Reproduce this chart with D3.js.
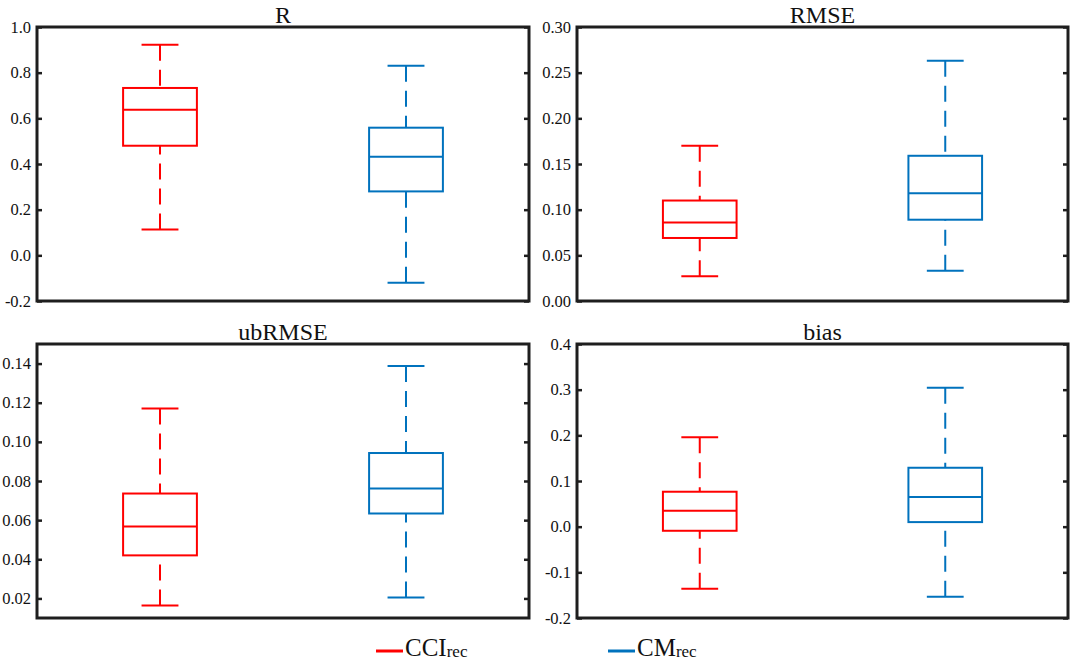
<!DOCTYPE html>
<html>
<head>
<meta charset="utf-8">
<script src="https://cdn.jsdelivr.net/npm/d3@7"></script>
<style>
  html, body { margin: 0; padding: 0; background: #fff; }
  svg { display: block; }
  text { font-family: "Liberation Serif", "Times New Roman", serif; }
</style>
</head>
<body>
<svg id="chart" width="1072" height="663"></svg>
<script>
// ---- data ----
const panelTitles = ["R", "RMSE", "ubRMSE", "bias"];
const seriesNames = ["CCI", "CM"];
const seriesSub = ["rec", "rec"];
const seriesColors = ["#ff0000", "#0072BD"];
const groupPositions = [1, 2];
// five-number summaries: [lowerWhisker, Q1, median, Q3, upperWhisker]
const cciStats = [
  [0.113, 0.480, 0.638, 0.733, 0.922],
  [0.027, 0.069, 0.086, 0.110, 0.170],
  [0.0164, 0.0420, 0.0567, 0.0736, 0.117],
  [-0.136, -0.009, 0.035, 0.0765, 0.196]
];
const cmStats = [
  [-0.120, 0.280, 0.432, 0.559, 0.830],
  [0.033, 0.089, 0.118, 0.159, 0.263],
  [0.0205, 0.0634, 0.0762, 0.0943, 0.1388],
  [-0.1535, 0.010, 0.065, 0.129, 0.304]
];
const yDomains = [[-0.2, 1.0], [0, 0.30], [0.01, 0.15], [-0.2, 0.4]];
const tickLabelsR = ["-0.2", "0.0", "0.2", "0.4", "0.6", "0.8", "1.0"];
const tickLabelsRMSE = ["0.00", "0.05", "0.10", "0.15", "0.20", "0.25", "0.30"];
const tickLabelsUb = ["0.02", "0.04", "0.06", "0.08", "0.10", "0.12", "0.14"];
const tickLabelsBias = ["-0.2", "-0.1", "0.0", "0.1", "0.2", "0.3", "0.4"];
const tickLabelSets = [tickLabelsR, tickLabelsRMSE, tickLabelsUb, tickLabelsBias];

// ---- layout ----
const frames = [
  {x0: 37, x1: 529, y0: 27, y1: 301},
  {x0: 577, x1: 1068, y0: 27, y1: 301},
  {x0: 37, x1: 529, y0: 344, y1: 618},
  {x0: 577, x1: 1068, y0: 344, y1: 618}
];
const boxW = 0.3, capW = 0.15;
const frameColor = "#1e1e1e";

const svg = d3.select("#chart");

panelTitles.forEach((title, i) => {
  const f = frames[i];
  const x = d3.scaleLinear().domain([0.5, 2.5]).range([f.x0, f.x1]);
  const y = d3.scaleLinear().domain(yDomains[i]).range([f.y1, f.y0]);
  const g = svg.append("g");
  const labels = tickLabelSets[i];
  const ticks = labels.map(Number);

  // boxes
  [cciStats[i], cmStats[i]].forEach((s, k) => {
    const c = seriesColors[k];
    const px = groupPositions[k];
    const bg = g.append("g").attr("stroke", c).attr("stroke-width", 2).attr("fill", "none");
    // whiskers (dashed, from caps toward box)
    bg.append("line")
      .attr("x1", x(px)).attr("x2", x(px))
      .attr("y1", y(s[4])).attr("y2", y(s[3]))
      .attr("stroke-dasharray", "16,9");
    bg.append("line")
      .attr("x1", x(px)).attr("x2", x(px))
      .attr("y1", y(s[0])).attr("y2", y(s[1]))
      .attr("stroke-dasharray", "16,9");
    // caps
    [s[0], s[4]].forEach(v => {
      bg.append("line")
        .attr("x1", x(px - capW / 2)).attr("x2", x(px + capW / 2))
        .attr("y1", y(v)).attr("y2", y(v));
    });
    // box
    bg.append("rect")
      .attr("x", x(px - boxW / 2))
      .attr("y", y(s[3]))
      .attr("width", x(px + boxW / 2) - x(px - boxW / 2))
      .attr("height", y(s[1]) - y(s[3]));
    // median
    bg.append("line")
      .attr("x1", x(px - boxW / 2)).attr("x2", x(px + boxW / 2))
      .attr("y1", y(s[2])).attr("y2", y(s[2]));
  });

  // y axis (left) with inward ticks
  const axL = d3.axisRight(y).tickValues(ticks).tickSize(5).tickFormat("");
  const gl = g.append("g").attr("transform", `translate(${f.x0},0)`).call(axL);
  gl.select(".domain").remove();
  gl.selectAll(".tick line").attr("stroke", frameColor).attr("stroke-width", 2.5);
  // right side mirrored ticks
  const axR = d3.axisLeft(y).tickValues(ticks).tickSize(5).tickFormat("");
  const gr = g.append("g").attr("transform", `translate(${f.x1},0)`).call(axR);
  gr.select(".domain").remove();
  gr.selectAll(".tick line").attr("stroke", frameColor).attr("stroke-width", 2.5);

  // tick labels
  g.selectAll(".ylab")
    .data(ticks)
    .enter().append("text")
    .attr("x", f.x0 - 6)
    .attr("y", d => y(d))
    .attr("dy", "0.34em")
    .attr("text-anchor", "end")
    .attr("font-size", 16.5)
    .attr("fill", "#111")
    .text((d, j) => labels[j]);

  // frame
  g.append("rect")
    .attr("x", f.x0).attr("y", f.y0)
    .attr("width", f.x1 - f.x0).attr("height", f.y1 - f.y0)
    .attr("fill", "none").attr("stroke", frameColor).attr("stroke-width", 3);

  // title
  g.append("text")
    .attr("x", (f.x0 + f.x1) / 2)
    .attr("y", f.y0 - 4.5)
    .attr("text-anchor", "middle")
    .attr("font-size", 24)
    .attr("fill", "#111")
    .text(title);
});

// legend
const legendX = [376, 608];
const legend = svg.append("g");
seriesNames.forEach((name, k) => {
  const lx = legendX[k];
  legend.append("line")
    .attr("x1", lx).attr("x2", lx + 27)
    .attr("y1", 651).attr("y2", 651)
    .attr("stroke", seriesColors[k]).attr("stroke-width", 3);
  const t = legend.append("text")
    .attr("x", lx + 29).attr("y", 656)
    .attr("font-size", 25).attr("fill", "#111");
  t.append("tspan").text(name);
  t.append("tspan").attr("font-size", 17).attr("dy", 0.5).text(seriesSub[k]);
});
</script>
</body>
</html>
